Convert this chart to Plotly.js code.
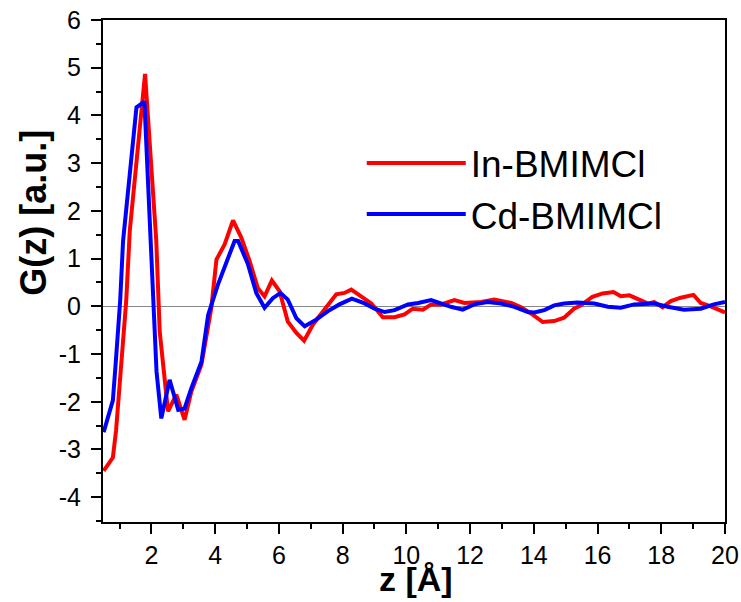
<!DOCTYPE html>
<html>
<head>
<meta charset="utf-8">
<script src="https://cdn.plot.ly/plotly-3.0.1.min.js"></script>
<style>html,body{margin:0;padding:0;background:#fff;}#chart{width:741px;height:602px;}</style>
</head>
<body>
<div id="chart"></div>
<script>
// In-BMIMCl (red)
const inX = [0.5,0.79,0.89,1.05,1.21,1.32,1.8,2.15,2.26,2.52,2.78,3.04,3.25,3.57,3.88,4.04,4.3,4.56,4.82,5.08,5.34,5.55,5.78,6.02,6.28,6.55,6.79,7.07,7.43,7.8,8.06,8.27,8.58,8.9,9.1,9.26,9.63,9.94,10.2,10.52,10.78,11.09,11.51,11.82,12.34,12.76,13.29,13.6,13.91,14.28,14.64,14.95,15.26,15.48,15.84,16.16,16.5,16.73,17.0,17.26,17.57,17.78,18.04,18.3,18.61,19.01,19.24,19.55,20.0];
const inY = [-3.45,-3.17,-2.6,-1.27,0.13,1.58,4.87,1.4,-0.53,-2.2,-1.85,-2.38,-1.79,-1.22,-0.03,0.98,1.30,1.80,1.44,0.95,0.38,0.21,0.54,0.32,-0.32,-0.56,-0.72,-0.38,-0.07,0.25,0.28,0.35,0.21,0.06,-0.1,-0.23,-0.23,-0.17,-0.05,-0.07,0.04,0.04,0.13,0.07,0.09,0.14,0.07,-0.02,-0.15,-0.33,-0.31,-0.24,-0.05,0.02,0.2,0.27,0.30,0.21,0.23,0.16,0.06,0.09,-0.02,0.11,0.18,0.24,0.07,0.0,-0.13];
// Cd-BMIMCl (blue)
const cdX = [0.5,0.79,0.87,0.94,1.02,1.11,1.53,1.78,1.95,2.05,2.16,2.31,2.57,2.84,3.04,3.25,3.57,3.78,4.09,4.61,4.72,5.03,5.29,5.55,5.81,6.05,6.28,6.55,6.81,7.17,7.54,7.9,8.29,8.69,9.0,9.32,9.63,10.05,10.37,10.78,11.09,11.4,11.77,12.13,12.55,12.97,13.39,13.81,14.02,14.33,14.64,14.95,15.37,15.9,16.32,16.73,17.15,17.78,18.2,18.71,19.24,19.65,20.0];
const cdY = [-2.64,-1.97,-1.27,-0.57,0.13,1.37,4.17,4.29,1.58,0.17,-1.37,-2.35,-1.54,-2.17,-2.14,-1.72,-1.16,-0.18,0.46,1.37,1.37,0.88,0.28,-0.03,0.17,0.28,0.14,-0.25,-0.42,-0.28,-0.1,0.04,0.16,0.06,-0.05,-0.12,-0.08,0.04,0.07,0.13,0.06,-0.01,-0.07,0.04,0.09,0.06,-0.01,-0.12,-0.13,-0.08,0.02,0.06,0.08,0.06,-0.01,-0.03,0.04,0.06,-0.01,-0.07,-0.05,0.04,0.09];
const names = ['In-BMIMCl','Cd-BMIMCl'];
const colors = ['#ff0000','#0000ff'];
const xTitle = 'z [Å]';
const yTitle = 'G(z) [a.u.]';
const yTickVals = [-4,-3,-2,-1,0,1,2,3,4,5,6];
const yTickText = ['-4','-3','-2','-1','0','1','2','3','4','5','6'];

const font = 'Arial, "Liberation Sans", sans-serif';
const traces = [
  {x: inX, y: inY, name: names[0], mode: 'lines', line: {color: colors[0], width: 4}},
  {x: cdX, y: cdY, name: names[1], mode: 'lines', line: {color: colors[1], width: 4}}
];
const layout = {
  width: 741, height: 602,
  margin: {l: 103, r: 16, t: 20, b: 80},
  paper_bgcolor: '#fff', plot_bgcolor: '#fff',
  font: {family: font, color: '#000'},
  showlegend: true,
  legend: {x: 0.416, y: 0.776, xanchor: 'left', yanchor: 'top', bgcolor: 'rgba(0,0,0,0)',
           font: {size: 37, family: font}, itemwidth: 99, tracegroupgap: 0},
  xaxis: {
    range: [0.48, 20], tickmode: 'linear', tick0: 0, dtick: 2,
    ticks: 'outside', ticklen: 10, tickwidth: 2, tickcolor: '#000',
    minor: {dtick: 1, tick0: 0, ticks: 'outside', ticklen: 5, tickwidth: 2, tickcolor: '#000'},
    showline: true, linecolor: '#000', linewidth: 2, mirror: true,
    showgrid: false, zeroline: false,
    tickfont: {size: 25, family: font}
  },
  yaxis: {
    range: [-4.52, 6], tickmode: 'array', tickvals: yTickVals, ticktext: yTickText,
    ticks: 'outside', ticklen: 10, tickwidth: 2, tickcolor: '#000',
    minor: {dtick: 0.5, tick0: 0, ticks: 'outside', ticklen: 5, tickwidth: 2, tickcolor: '#000'},
    showline: true, linecolor: '#000', linewidth: 2, mirror: true,
    showgrid: false, zeroline: true, zerolinecolor: '#888', zerolinewidth: 1.5,
    tickfont: {size: 25, family: font}, ticklabelstandoff: 5
  },
  annotations: [{
    text: '<b>' + yTitle + '</b>', xref: 'paper', yref: 'paper',
    x: -0.111, y: 0.616, xanchor: 'center', yanchor: 'middle', textangle: -90,
    showarrow: false, font: {size: 36, family: font, color: '#000'}
  }, {
    text: '<b>' + xTitle + '</b>', xref: 'paper', yref: 'paper',
    x: 0.504, y: -0.0717, xanchor: 'center', yanchor: 'top',
    showarrow: false, font: {size: 34, family: font, color: '#000'}
  }]
};
Plotly.newPlot('chart', traces, layout, {displayModeBar: false, staticPlot: true});
</script>
</body>
</html>
